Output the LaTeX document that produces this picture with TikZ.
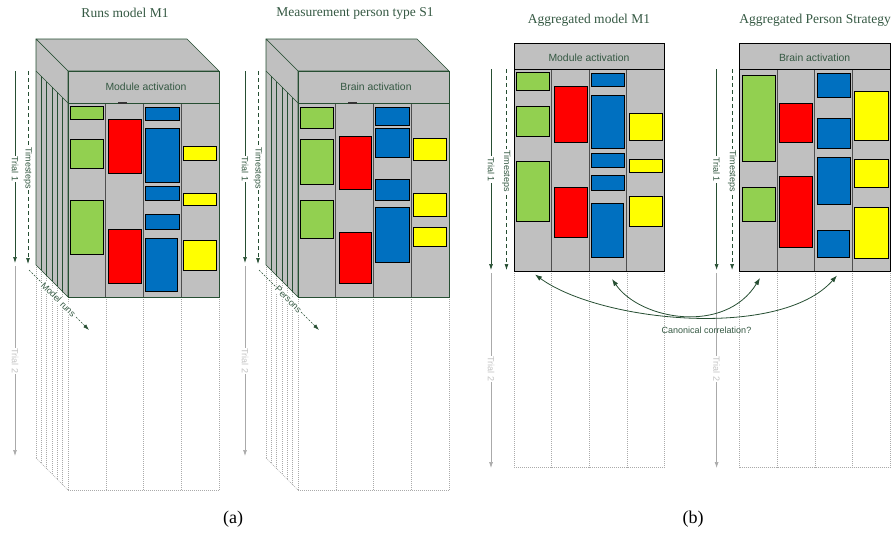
\documentclass[tikz,border=0pt]{standalone}
\usepackage{fontspec}
\setmainfont{Liberation Serif}
\setsansfont{Liberation Sans}
\usetikzlibrary{arrows.meta}

\definecolor{edge}{RGB}{38,78,50}
\definecolor{lbl}{RGB}{52,88,66}
\definecolor{panel}{RGB}{192,192,192}
\definecolor{divider}{RGB}{78,78,78}
\definecolor{ghost}{RGB}{170,170,170}
\definecolor{ghosttxt}{RGB}{195,195,195}
\definecolor{blkgreen}{RGB}{146,208,80}
\definecolor{blkred}{RGB}{255,0,0}
\definecolor{blkblue}{RGB}{0,112,192}
\definecolor{blkyellow}{RGB}{255,255,0}

\tikzset{
  face/.style={fill=panel, draw=edge, line width=0.7pt, line join=round},
  coldiv/.style={draw=divider, line width=1pt},
  slice/.style={draw=edge, line width=0.6pt},
  ghostline/.style={draw=ghost, line width=0.5pt, dash pattern=on 1pt off 1pt},
  blockbox/.style={draw=black, line width=0.7pt},
  greenblk/.style={blockbox, fill=blkgreen},
  redblk/.style={blockbox, fill=blkred},
  blueblk/.style={blockbox, fill=blkblue},
  yellowblk/.style={blockbox, fill=blkyellow},
  tip/.style={-{Latex[length=6pt,width=4pt]}},
  trialarrow/.style={draw=edge, line width=0.7pt, tip},
  timearrow/.style={draw=edge, line width=0.7pt, dash pattern=on 4pt off 3pt, tip},
  runarrow/.style={draw=edge, line width=0.6pt, dash pattern=on 2pt off 1.5pt, tip},
  trialtwo/.style={draw=ghost, line width=0.7pt, tip},
  corr/.style={draw=edge, line width=0.8pt, {Latex[length=7pt,width=5pt]}-{Latex[length=7pt,width=5pt]}},
  axislabel/.style={font=\sffamily\fontsize{9}{10}\selectfont, text=lbl, fill=white, inner sep=1pt, rotate=-90},
  ghostlabel/.style={axislabel, text=ghosttxt},
  runlabel/.style={font=\sffamily\fontsize{9}{10}\selectfont, text=lbl, fill=white, inner sep=0.8pt, rotate=-45},
  titletext/.style={font=\fontsize{13.5}{15}\selectfont, text=lbl},
  headertext/.style={font=\sffamily\fontsize{10.4}{12}\selectfont, text=lbl},
  caption/.style={font=\fontsize{18}{20}\selectfont},
}

% Perspective stack of runs / persons: top face, sliced side face, front face,
% dotted continuation for the second trial, and the axis arrows.
\newcommand{\stackframe}[3]{%
  % #1 header text, #2 depth-axis label, #3 name prefix
  \foreach \x in {68,105.75,143.5,181.25,219}
    \draw[ghostline] (\x,297) -- (\x,490);
  \draw[ghostline] (68,490) -- (219,490);
  \foreach \s in {0,5.33,10.67,16,21.33,26.67}
    \draw[ghostline] (36+\s,265+\s) -- (36+\s,458+\s);
  \draw[ghostline] (36,458) -- (68,490);
  \draw[face] (36,39) -- (187,39) -- (219,71) -- (68,71) -- cycle;
  \draw[face] (36,39) -- (68,71) -- (68,297) -- (36,265) -- cycle;
  \draw[slice] (36,71) -- (68,103);
  \foreach \s in {5.33,10.67,16,21.33,26.67}
    \draw[slice] (36+\s,71+\s) -- (36+\s,265+\s);
  \draw[face] (68,71) rectangle (219,297);
  \draw[slice] (68,103) -- (219,103);
  \foreach \x in {105.75,143.5,181.25}
    \draw[coldiv] (\x,103.5) -- (\x,296.5);
  \draw[face, fill=none] (68,71) rectangle (219,297);
  \node[headertext] (#3head) at (146,87) {#1};
  \fill[black!80] (118,101.8) rectangle (127,103.6);
  % axes
  \coordinate (#3t1a) at (15,71);  \coordinate (#3t1b) at (15,263);
  \coordinate (#3tsa) at (28,71);  \coordinate (#3tsb) at (28,264);
  \coordinate (#3t2a) at (15,266); \coordinate (#3t2b) at (15,456);
  \coordinate (#3ra) at (29,270);  \coordinate (#3rb) at (89,330);
  \draw[trialarrow] (#3t1a) -- (#3t1b);
  \draw[timearrow] (#3tsa) -- (#3tsb);
  \draw[trialtwo] (#3t2a) -- (#3t2b);
  \draw[runarrow] (#3ra) -- (#3rb);
  \node[axislabel] (#3t1l) at (15,169) {Trial 1};
  \node[axislabel] (#3tsl) at (28,168) {Timesteps};
  \node[ghostlabel] (#3t2l) at (15,361) {Trial 2};
  \node[runlabel] (#3rl) at (58.5,299.5) {#2};
}

% Aggregated flat panel: header, four columns, dotted second trial.
\newcommand{\flatframe}[3]{%
  % #1 left x, #2 header text, #3 name prefix
  \begin{scope}[xshift=#1]
    \foreach \x in {0,37.6,75.2,112.8,150.4}
      \draw[ghostline] (\x,271) -- (\x,467.5);
    \draw[ghostline] (0,467.5) -- (150.4,467.5);
    \draw[fill=panel, draw=none] (0,43.3) rectangle (150.4,271);
    \foreach \x in {37.6,75.2,112.8}
      \draw[coldiv] (\x,69.3) -- (\x,271);
    \draw[draw=black, line width=0.8pt] (0,43.3) rectangle (150.4,271);
    \draw[draw=black, line width=0.8pt] (0,69.3) -- (150.4,69.3);
    \node[headertext] (#3head) at (75,57.5) {#2};
    \coordinate (#3t1a) at (-23,69.3);  \coordinate (#3t1b) at (-23,270);
    \coordinate (#3tsa) at (-7.5,69.3); \coordinate (#3tsb) at (-7.5,270);
    \coordinate (#3t2a) at (-23,273);   \coordinate (#3t2b) at (-23,468);
    \draw[trialarrow] (#3t1a) -- (#3t1b);
    \draw[timearrow] (#3tsa) -- (#3tsb);
    \draw[trialtwo] (#3t2a) -- (#3t2b);
    \node[axislabel] (#3t1l) at (-23,169.5) {Trial 1};
    \node[axislabel] (#3tsl) at (-7.5,171) {Timesteps};
    \node[ghostlabel] (#3t2l) at (-23,369) {Trial 2};
  \end{scope}
}

\begin{document}
\begin{tikzpicture}[x=1pt,y=-1pt]
\useasboundingbox (0,0) rectangle (894,533);

% ---------- (a) model runs ----------
\stackframe{Module activation}{Model runs}{ma}
\node[titletext] (matitle) at (125,13) {Runs model M1};
\draw[greenblk] (70,106) rectangle (103.7,119.7);
\draw[greenblk] (70,139) rectangle (103.7,168);
\draw[greenblk] (70,200.3) rectangle (103.7,254);
\draw[redblk] (108.3,119.7) rectangle (141.3,173.7);
\draw[redblk] (108.3,229.3) rectangle (141.3,283);
\draw[blueblk] (145,107) rectangle (179,120);
\draw[blueblk] (145,128.3) rectangle (179,182);
\draw[blueblk] (145,186.3) rectangle (179,200.3);
\draw[blueblk] (145,214.3) rectangle (179,229.3);
\draw[blueblk] (145,238) rectangle (177.7,291.7);
\draw[yellowblk] (183,146.3) rectangle (216.3,160.7);
\draw[yellowblk] (183,193) rectangle (216.3,205.7);
\draw[yellowblk] (183,240) rectangle (216.3,270);

% ---------- (a) measured persons ----------
\begin{scope}[xshift=230]
\stackframe{Brain activation}{Persons}{pa}
\end{scope}
\node[titletext] (patitle) at (355,13) {Measurement person type S1};
\draw[greenblk] (300,107.3) rectangle (333.7,128.3);
\draw[greenblk] (300,139) rectangle (333.7,184.3);
\draw[greenblk] (300,200.3) rectangle (333.7,238.3);
\draw[redblk] (339,136) rectangle (371.3,189.7);
\draw[redblk] (339,232.3) rectangle (371.3,283.3);
\draw[blueblk] (375.3,107.3) rectangle (409,125.7);
\draw[blueblk] (375.3,128.3) rectangle (409,157.3);
\draw[blueblk] (375.3,179) rectangle (409,200.3);
\draw[blueblk] (375.3,207) rectangle (409,262.7);
\draw[yellowblk] (413,138) rectangle (446.7,160.7);
\draw[yellowblk] (413,193) rectangle (446.7,216.7);
\draw[yellowblk] (413,227.3) rectangle (446.7,246.7);

\node[caption] (capa) at (233,519) {(a)};

% ---------- (b) aggregated model ----------
\flatframe{514}{Module activation}{mb}
\node[titletext] (mbtitle) at (589,20) {Aggregated model M1};
\draw[greenblk] (516,72.3) rectangle (549.7,90.7);
\draw[greenblk] (516,106) rectangle (549.7,136);
\draw[greenblk] (516,161.7) rectangle (549.7,221);
\draw[redblk] (554,86.7) rectangle (587.3,142.3);
\draw[redblk] (554,187.3) rectangle (587.3,237);
\draw[blueblk] (591,73.3) rectangle (624.7,86.7);
\draw[blueblk] (591,95) rectangle (624.7,148.7);
\draw[blueblk] (591,153.3) rectangle (624.7,167.3);
\draw[blueblk] (591,175.3) rectangle (624.7,190.7);
\draw[blueblk] (591,203.3) rectangle (623.7,257.7);
\draw[yellowblk] (629,113.3) rectangle (662.7,140.3);
\draw[yellowblk] (629,159.3) rectangle (662.7,172.3);
\draw[yellowblk] (629,196) rectangle (662.7,226.3);

% ---------- (b) aggregated person strategy ----------
\flatframe{739.6}{Brain activation}{pb}
\node[titletext] (pbtitle) at (815,20) {Aggregated Person Strategy};
\draw[greenblk] (742.3,75.7) rectangle (775.3,161.7);
\draw[greenblk] (742.3,187.3) rectangle (775.3,221);
\draw[redblk] (779.3,103.7) rectangle (812.7,142.3);
\draw[redblk] (779.3,176.7) rectangle (812.7,247.7);
\draw[blueblk] (817,73.3) rectangle (850.3,97.3);
\draw[blueblk] (817,118.3) rectangle (850.3,148.7);
\draw[blueblk] (817,157.3) rectangle (850.3,204.3);
\draw[blueblk] (817,230.3) rectangle (849.3,257.7);
\draw[yellowblk] (854.7,91) rectangle (888,140.3);
\draw[yellowblk] (854.7,159.3) rectangle (888,187.3);
\draw[yellowblk] (854.7,207) rectangle (888,258.3);

% ---------- correlation between the two aggregates ----------
\coordinate (mbc1) at (535,274.5);
\coordinate (mbc3) at (612,279);
\coordinate (pbc1) at (760,278);
\coordinate (pbc3) at (837,275.5);
\draw[corr] (mbc1) .. controls (600,322) and (780,340) .. (pbc3);
\draw[corr] (mbc3) .. controls (640,320) and (725,335) .. (pbc1);
\node[font=\sffamily\fontsize{9}{10}\selectfont, text=lbl] (corrlabel) at (706.5,330.5) {Canonical correlation?};

\node[caption] (capb) at (693,519) {(b)};
\end{tikzpicture}
\end{document}
